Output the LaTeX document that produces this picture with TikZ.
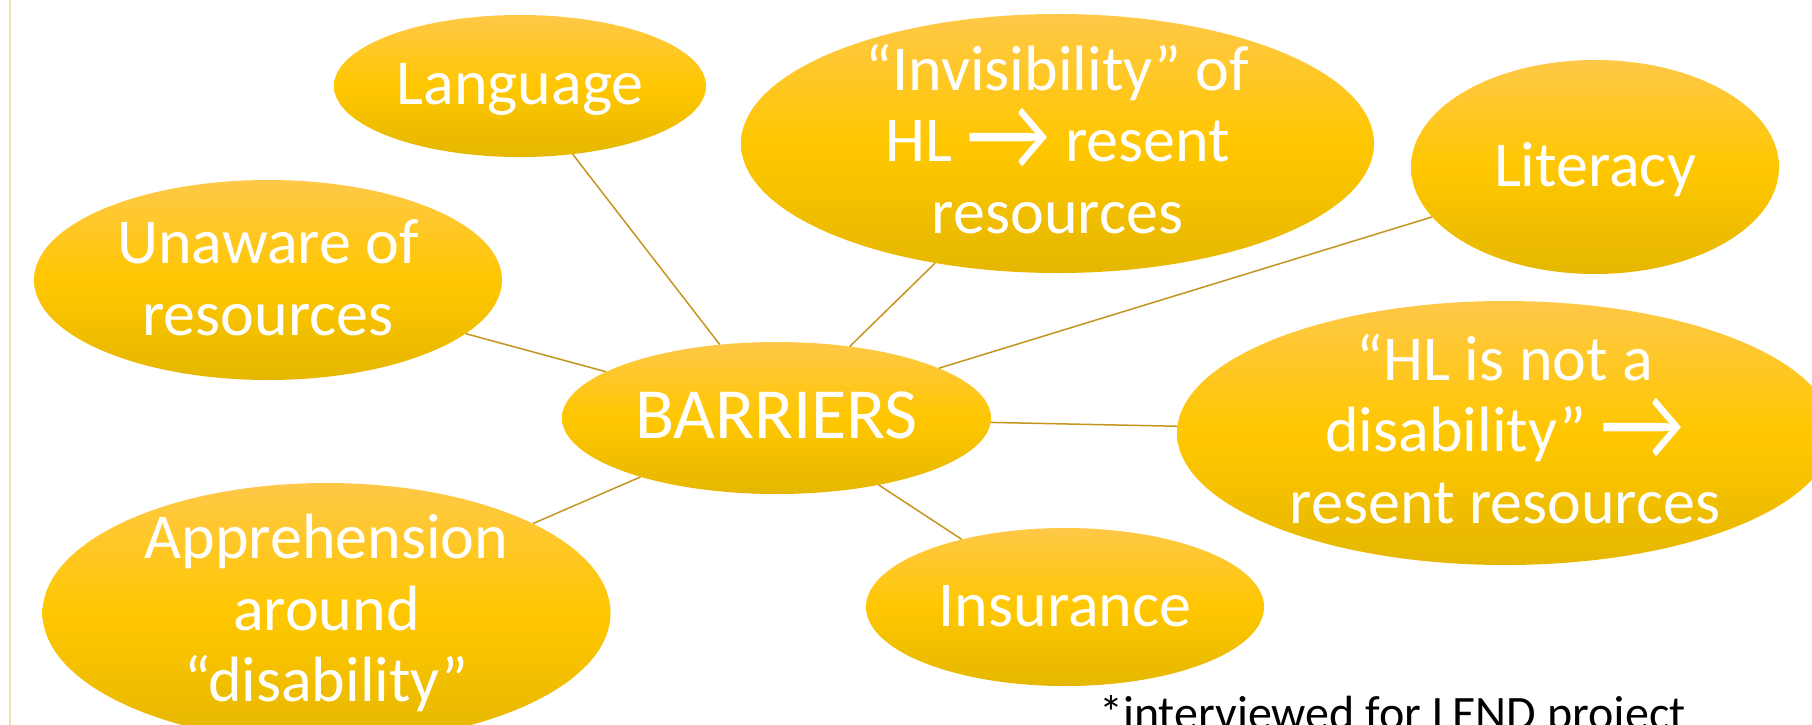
\documentclass[tikz,border=0pt]{standalone}
\usepackage{fontspec}
\setmainfont{Carlito}
\usetikzlibrary{shapes.geometric}
\definecolor{edgec}{RGB}{196,150,30}
\definecolor{ctop}{RGB}{255,200,72}
\definecolor{cmid}{RGB}{255,199,0}
\definecolor{cbot}{RGB}{229,183,0}
\definecolor{rulec}{RGB}{240,224,184}
\tikzset{
  bubble/.style={ellipse, inner sep=0pt, draw=none, top color=ctop, bottom color=cbot, middle color=cmid},
  lbl/.style={anchor=base, text=white, inner sep=0pt, font=\fontsize{64}{71.7}\selectfont},
  link/.style={draw=edgec, line width=1.5pt},
  rulestyle/.style={draw=rulec, line width=2.5pt},
}
\newcommand\mlines[1]{\begin{tabular}[t]{@{}c@{}}#1\end{tabular}}
\newcommand\bigarrow{\smash{\raisebox{-9pt}{\scalebox{1.45}[1.7]{→}}}}
\begin{document}
\begin{tikzpicture}[x=1pt,y=-1pt]
\path[fill=white,use as bounding box] (0,0) rectangle (1812,725);
\coordinate (r1) at (10,0);
\coordinate (r2) at (10,725);
\path[rulestyle] (r1) -- (r2);
% bubbles
\node[bubble, minimum width=372pt, minimum height=142pt] (lang) at (520,86) {};
\node[bubble, minimum width=468pt, minimum height=200pt] (unaware) at (268,280) {};
\node[bubble, minimum width=568pt, minimum height=260pt] (appr) at (326.5,613) {};
\node[bubble, minimum width=429pt, minimum height=152pt] (bar) at (776.5,418) {};
\node[bubble, minimum width=633pt, minimum height=259pt] (invis) at (1057.5,143.5) {};
\node[bubble, minimum width=368pt, minimum height=214pt] (lit) at (1595,167) {};
\node[bubble, minimum width=656pt, minimum height=264pt] (hl) at (1505,433) {};
\node[bubble, minimum width=398pt, minimum height=158pt] (ins) at (1065,607) {};
% connectors
\path[link] (bar) -- (lang);
\path[link] (bar) -- (unaware);
\path[link] (bar) -- (appr);
\path[link] (bar) -- (invis);
\path[link] (bar) -- (lit);
\path[link] (bar) -- (hl);
\path[link] (bar) -- (ins);
% labels
\node[lbl] (lang-t) at (520,104) {Language};
\node[lbl] (unaware-t) at (268,263.5) {\mlines{Unaware of\\resources}};
\node[lbl] (appr-t) at (326.5,558.5) {\mlines{Apprehension\\around\\“disability”}};
\node[lbl, font=\fontsize{72}{80}\selectfont] (bar-t) at (776.5,438) {BARRIERS};
\node[lbl] (invis-t) at (1057.5,90) {\mlines{“Invisibility” of\\HL \bigarrow{} resent\\resources}};
\node[lbl] (lit-t) at (1595,186) {Literacy};
\node[lbl] (ins-t) at (1065,626.5) {Insurance};
\node[lbl] (hl-t) at (1505,380) {\mlines{“HL is not a\\disability” \bigarrow\\resent resources}};
\node[anchor=base west, inner sep=0pt, text=black, font=\fontsize{48}{58}\selectfont] (note) at (1099,729) {*interviewed for LEND project};
\end{tikzpicture}
\end{document}
